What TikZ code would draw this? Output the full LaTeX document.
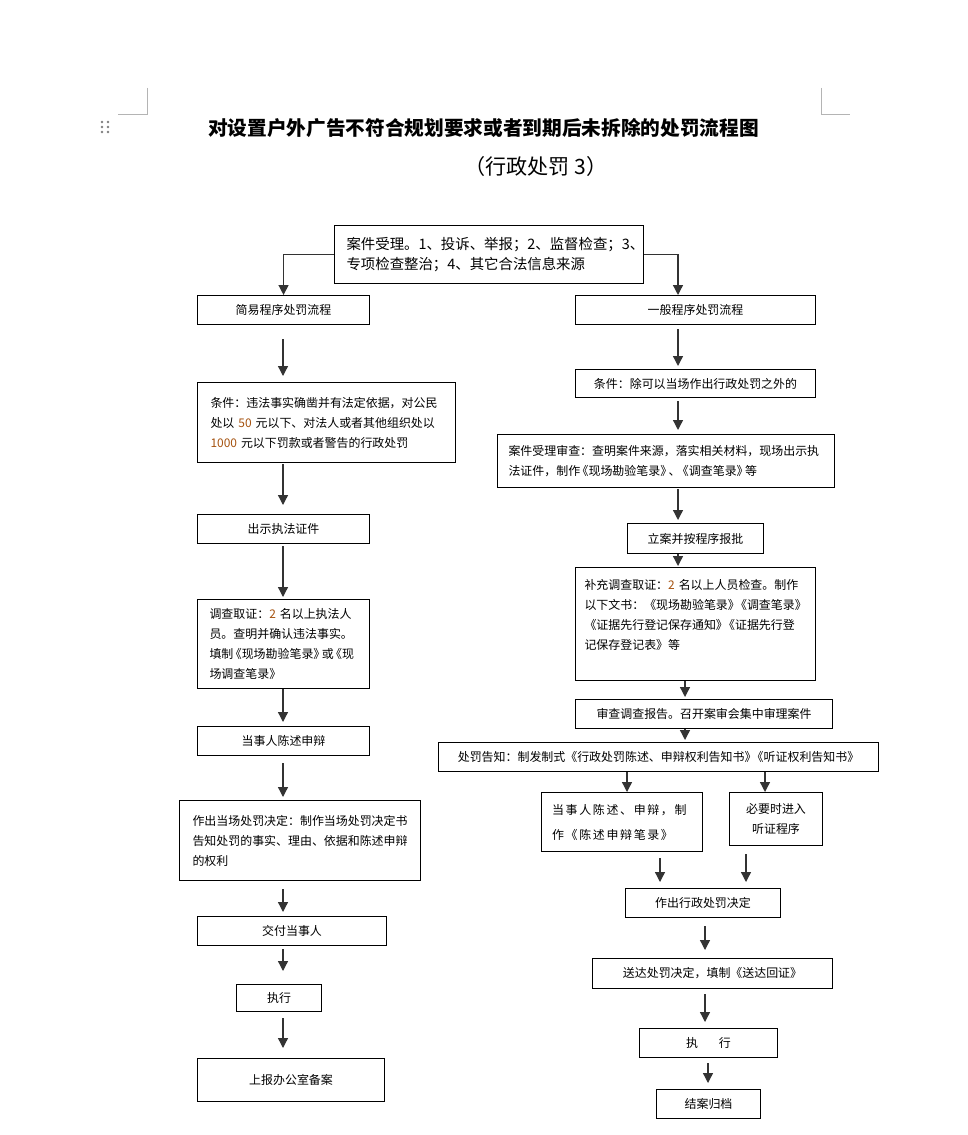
\documentclass[tikz,border=0pt]{standalone}
\usepackage{fontspec}
\setmainfont{Noto Sans CJK SC}
\usetikzlibrary{arrows.meta,calc}
\definecolor{LineGray}{HTML}{333333}
\definecolor{MarkGray}{HTML}{B4B4B4}
\definecolor{NumOrange}{HTML}{A5520F}
\newlength{\px}
\setlength{\px}{0.02cm}
\newcommand{\boxfont}{\fontsize{6.8pt}{11.4pt}\selectfont}
\newcommand{\hinum}[1]{{\color{NumOrange}#1}}
\newcommand{\lbk}{\kern-.3em《}
\newcommand{\rbk}{》\kern-.3em}

\begin{document}
\begin{tikzpicture}[
	x=0.02cm, y=-0.02cm,
	box/.style={
		draw=black,
		line width=0.6pt,
		inner sep=0pt,
		anchor=north west,
		align=center,
		font=\boxfont
	},
	flow/.style={
		-{Triangle[width=0.2cm,length=0.2cm]},
		line width=0.75pt,
		draw=LineGray
	},
	gaps/.style 2 args={shorten <=#1\px, shorten >=#2\px}
]

\path[use as bounding box, fill=white] (0,0) rectangle (967,1135);

\draw[MarkGray, line width=0.5pt] (147,88) -- (147,114) -- (118,114);
\draw[MarkGray, line width=0.5pt] (821,88) -- (821,114) -- (850,114);
\foreach \dx in {102,108}
	\foreach \dy in {122,127,132}
		\fill[MarkGray!70!black] (\dx,\dy) circle (1.3\px);

\node[font=\fontsize{11.2pt}{14pt}\selectfont\bfseries] (title) at (483.5,128)
	{对设置户外广告不符合规划要求或者到期后未拆除的处罚流程图};
\node[font=\fontsize{12pt}{14pt}\selectfont] (subtitle) at (536,166)
	{（行政处罚 3）};

\coordinate (colL) at (283,0);
\coordinate (colR) at (678,0);
\coordinate (colM) at (685,0);
\coordinate (colS) at (627,0);
\coordinate (colH) at (765,0);
\coordinate (colSd) at (660,0);
\coordinate (colHd) at (746,0);
\coordinate (colE) at (705,0);
\coordinate (colF) at (708,0);

\node[box, minimum width=309\px, minimum height=58\px, text width=285\px, align=left,
	font=\fontsize{8.2pt}{11.4pt}\selectfont] (accept) at (334,225)
	{案件受理。1、投诉、举报；2、监督检查；3、\\专项检查整治；4、其它合法信息来源};

\node[box, minimum width=172\px, minimum height=29\px] (simple) at (197,295)
	{简易程序处罚流程};

\node[box, minimum width=258\px, minimum height=80\px, text width=232\px, align=left] (condA) at (197,382)
	{条件：违法事实确凿并有法定依据，对公民\\处以 \hinum{50} 元以下、对法人或者其他组织处以\\\hinum{1000} 元以下罚款或者警告的行政处罚};

\node[box, minimum width=172\px, minimum height=29\px] (showid) at (197,514)
	{出示执法证件};

\node[box, minimum width=172\px, minimum height=89\px, text width=148\px, align=left] (probe) at (197,599)
	{调查取证：\hinum{2} 名以上执法人\\员。查明并确认违法事实。\\填制\lbk 现场勘验笔录\rbk 或\lbk 现\\场调查笔录》};

\node[box, minimum width=172\px, minimum height=29\px] (plead) at (197,726)
	{当事人陈述申辩};

\node[box, minimum width=241\px, minimum height=80\px, text width=215\px, align=left] (decideA) at (179,800)
	{作出当场处罚决定：制作当场处罚决定书\\告知处罚的事实、理由、依据和陈述申辩\\的权利};

\node[box, minimum width=189\px, minimum height=29\px] (deliver) at (197,916)
	{交付当事人};

\node[box, minimum width=85\px, minimum height=27\px] (execA) at (236,984)
	{执行};

\node[box, minimum width=187\px, minimum height=43\px] (report) at (197,1058)
	{上报办公室备案};

\node[box, minimum width=240\px, minimum height=29\px] (general) at (575,295)
	{一般程序处罚流程};

\node[box, minimum width=240\px, minimum height=28\px] (condB) at (575,369)
	{条件：除可以当场作出行政处罚之外的};

\node[box, minimum width=337\px, minimum height=53\px, text width=315\px, align=left] (review) at (497,434)
	{案件受理审查：查明案件来源，落实相关材料，现场出示执\\法证件，制作\lbk 现场勘验笔录\rbk 、\lbk 调查笔录\rbk 等};

\node[box, minimum width=136\px, minimum height=30\px] (file) at (627,523)
	{立案并按程序报批};

\node[box, minimum width=240\px, minimum height=113\px, text width=222\px, align=left] (supp) at (575,567)
	{补充调查取证：\hinum{2} 名以上人员检查。制作\\以下文书：《现场勘验笔录》\kern-.4em《调查笔录》\\《证据先行登记保存通知》\kern-.4em《证据先行登\\记保存登记表》等\\\mbox{}};

\node[box, minimum width=257\px, minimum height=29\px] (meeting) at (575,699)
	{审查调查报告。召开案审会集中审理案件};

\node[box, minimum width=440\px, minimum height=29\px] (notice) at (438,742)
	{处罚告知：制发制式《行政处罚陈述、申辩权利告知书》\kern-.4em《听证权利告知书》};

\node[box, minimum width=161\px, minimum height=59\px, text width=140\px, align=left,
	font=\fontsize{6.8pt}{14.2pt}\selectfont\addfontfeature{LetterSpace=14}] (stateB) at (541,792)
	{当事人陈述、申辩，制\\作《陈述申辩笔录》};

\node[box, minimum width=93\px, minimum height=53\px] (hearing) at (729,792)
	{必要时进入\\听证程序};

\node[box, minimum width=155\px, minimum height=29\px] (decideB) at (625,888)
	{作出行政处罚决定};

\node[box, minimum width=240\px, minimum height=30\px] (serve) at (592,958)
	{送达处罚决定，填制《送达回证》};

\node[box, minimum width=138\px, minimum height=29\px] (execB) at (639,1028)
	{执\hspace{1.75em}行};

\node[box, minimum width=104\px, minimum height=29\px] (archive) at (656,1089)
	{结案归档};

\draw[flow] (accept.west) -| (simple.north);
\draw[flow] (accept.east) -| (general.north -| colR);

\draw[flow, gaps={14}{6}] (simple.south -| colL) -- (condA.north -| colL);
\draw[flow, gaps={1}{9}] (condA.south -| colL) -- (showid.north -| colL);
\draw[flow, gaps={2}{2}] (showid.south -| colL) -- (probe.north -| colL);
\draw[flow, gaps={0}{4}] (probe.south -| colL) -- (plead.north -| colL);
\draw[flow, gaps={7}{3}] (plead.south -| colL) -- (decideA.north -| colL);
\draw[flow, gaps={8}{4}] (decideA.south -| colL) -- (deliver.north -| colL);
\draw[flow, gaps={3}{13}] (deliver.south -| colL) -- (execA.north -| colL);
\draw[flow, gaps={6}{10}] (execA.south -| colL) -- (report.north -| colL);

\draw[flow, gaps={4}{3}] (general.south -| colR) -- (condB.north -| colR);
\draw[flow, gaps={3}{4}] (condB.south -| colR) -- (review.north -| colR);
\draw[flow, gaps={1}{3}] (review.south -| colR) -- (file.north -| colR);
\draw[flow, gaps={0}{1}] (file.south -| colR) -- (supp.north -| colR);
\draw[flow, gaps={0}{2}] (supp.south -| colM) -- (meeting.north -| colM);
\draw[flow, gaps={0}{2}] (meeting.south -| colM) -- (notice.north -| colM);
\draw[flow] (notice.south -| colS) -- (stateB.north -| colS);
\draw[flow] (notice.south -| colH) -- (hearing.north -| colH);
\draw[flow, gaps={6}{6}] (stateB.south -| colSd) -- (decideB.north -| colSd);
\draw[flow, gaps={8}{6}] (hearing.south -| colHd) -- (decideB.north -| colHd);
\draw[flow, gaps={8}{8}] (decideB.south -| colE) -- (serve.north -| colE);
\draw[flow, gaps={5}{6}] (serve.south -| colE) -- (execB.north -| colE);
\draw[flow, gaps={5}{6}] (execB.south -| colF) -- (archive.north -| colF);

\end{tikzpicture}
\end{document}
